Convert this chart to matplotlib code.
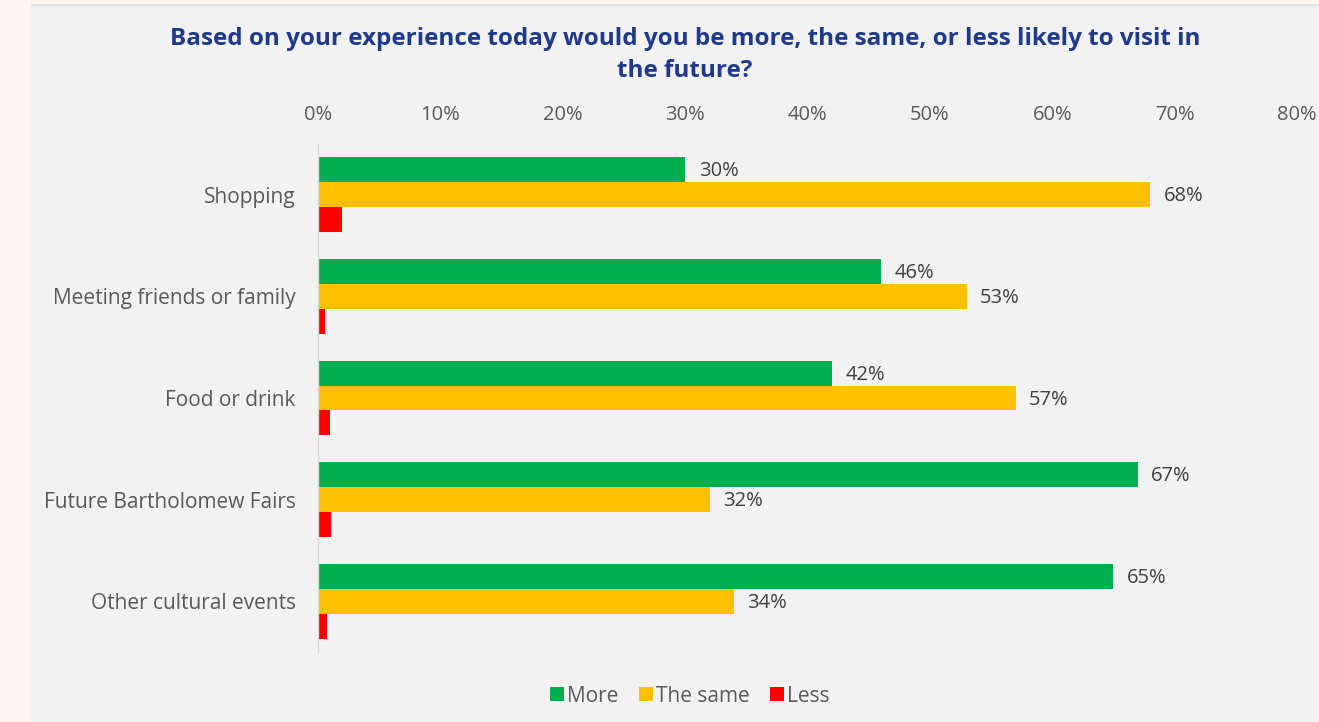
import matplotlib

matplotlib.use("Agg")
import matplotlib.pyplot as plt
import numpy as np
from matplotlib.patches import Rectangle
from matplotlib.ticker import FuncFormatter

plt.rcParams["font.family"] = ["Open Sans", "DejaVu Sans"]

categories = [
    "Shopping",
    "Meeting friends or family",
    "Food or drink",
    "Future Bartholomew Fairs",
    "Other cultural events",
]
more = [30, 46, 42, 67, 65]
same = [68, 53, 57, 32, 34]
less = [2.0, 0.6, 1.0, 1.1, 0.7]
x_ticks = [0, 10, 20, 30, 40, 50, 60, 70, 80]

GREEN = "#00b050"
YELLOW = "#ffc000"
RED = "#ff0000"
TITLE_BLUE = "#1f3a8c"
TEXT = "#595959"
LABEL = "#404040"
PANEL = "#f2f2f2"
PAGE = "#fdf5ef"

fig = plt.figure(figsize=(13.19, 7.22), dpi=100, facecolor=PAGE)
# grey card behind the chart, with a faint top edge
fig.patches.append(
    Rectangle((31 / 1319, 0), 1 - 31 / 1319, 1 - 5 / 722, transform=fig.transFigure,
              facecolor=PANEL, edgecolor="none", zorder=-2)
)
fig.patches.append(
    Rectangle((31 / 1319, 1 - 6 / 722), 1 - 31 / 1319, 1.5 / 722, transform=fig.transFigure,
              facecolor="#e4e0dd", edgecolor="none", zorder=-1)
)

ax = fig.add_axes([318 / 1319, 1 - 652 / 722, (1297 - 318) / 1319, (652 - 144) / 722])
ax.set_facecolor("none")

y = np.arange(len(categories))
h = 0.246
series = [(more, GREEN, "More", -h), (same, YELLOW, "The same", 0.0), (less, RED, "Less", h)]
for vals, color, name, off in series:
    ax.barh(y + off, vals, height=h, color=color, label=name, zorder=2)

for vals, off in [(more, -h), (same, 0.0)]:
    for yi, v in zip(y, vals):
        ax.text(v + 1.1, yi + off + 0.015, f"{v}%", va="center", ha="left", fontsize=14.5, color=LABEL)

ax.set_xlim(0, 80)
ax.set_ylim(len(categories) - 0.5, -0.5)
ax.set_xticks(x_ticks)
ax.xaxis.set_major_formatter(FuncFormatter(lambda v, _: f"{v:.0f}%"))
ax.xaxis.tick_top()
ax.tick_params(axis="x", length=0, pad=14, labelsize=14.5, labelcolor=TEXT)
ax.set_yticks(y)
ax.set_yticklabels(categories)
ax.tick_params(axis="y", length=0, pad=16, labelsize=15, labelcolor=TEXT)
for side in ("top", "right", "bottom"):
    ax.spines[side].set_visible(False)
ax.spines["left"].set_color("#d9d9d9")
ax.spines["left"].set_linewidth(1.0)

fig.text(685 / 1319, 1 - 55 / 722,
         "Based on your experience today would you be more, the same, or less likely to visit in\nthe future?",
         ha="center", va="center", fontsize=17.5, fontweight="bold", color=TITLE_BLUE, linespacing=1.45)

ax.legend(loc="center", bbox_to_anchor=(690 / 1319, 1 - 696 / 722), bbox_transform=fig.transFigure,
          ncol=3, frameon=False, fontsize=15, labelcolor=TEXT, handlelength=0.65, handleheight=0.65,
          handletextpad=0.15, columnspacing=1.0)

fig.savefig("out.png", dpi=100, facecolor=PAGE)
